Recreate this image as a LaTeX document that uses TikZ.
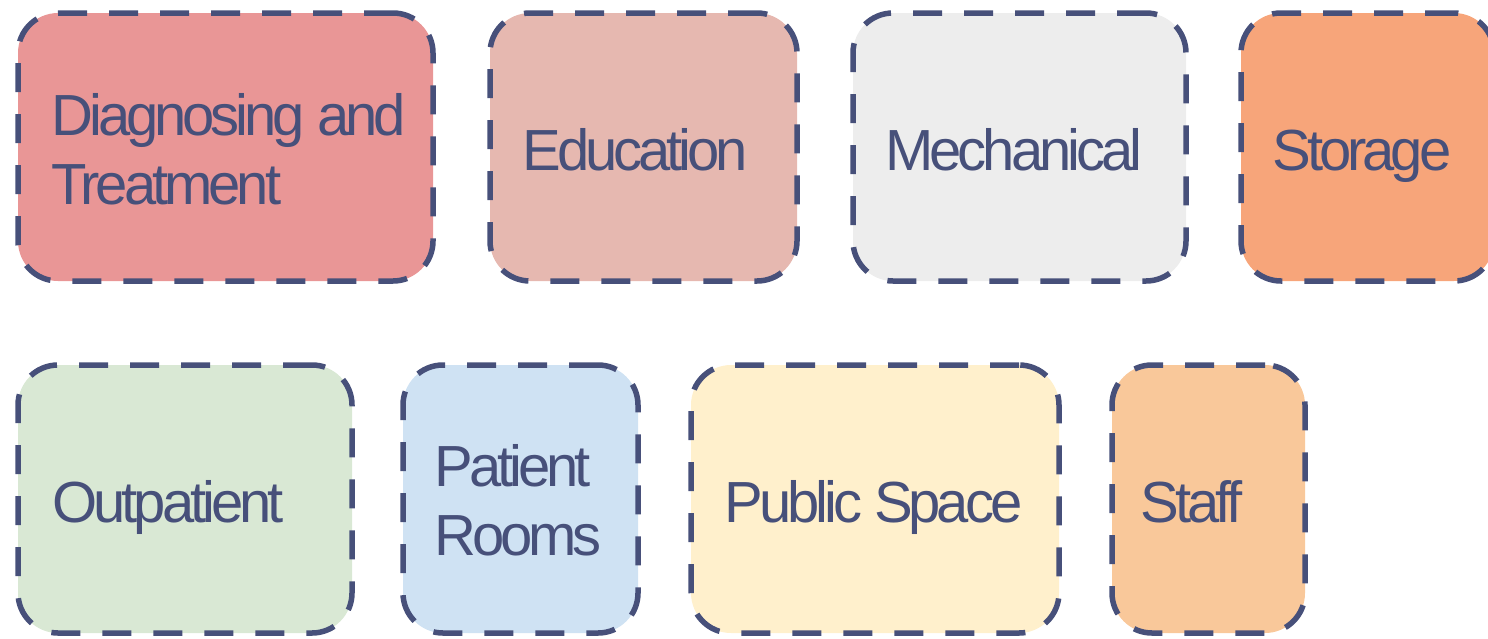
\documentclass[tikz,border=0pt]{standalone}
\usepackage{fontspec}
\setmainfont{Liberation Sans}[LetterSpace=-7]
\definecolor{edge}{HTML}{47507A}
\definecolor{cDiag}{HTML}{E99696}
\definecolor{cEdu}{HTML}{E6B8B0}
\definecolor{cMech}{HTML}{EDEDED}
\definecolor{cStor}{HTML}{F7A57A}
\definecolor{cOut}{HTML}{D9E8D4}
\definecolor{cPat}{HTML}{CFE2F3}
\definecolor{cPub}{HTML}{FFF0CC}
\definecolor{cStaff}{HTML}{F9C89A}
\tikzset{
  zone/.style={draw=edge, line width=5.5pt, dash pattern=on 29pt off 22pt,
    rounded corners=40pt, inner sep=0pt},
  lbl/.style={inner sep=0pt, align=left, text=edge, anchor=base west,
    font=\fontsize{58}{69}\selectfont},
}
\newcommand{\zonebox}[6]{%
  % #1 name, #2 x1, #3 y1, #4 x2, #5 y2, #6 color
  \pgfmathsetmacro{\zw}{#4-#2}\pgfmathsetmacro{\zh}{#5-#3}%
  \node[zone, fill=#6, minimum width=\zw pt, minimum height=\zh pt]
    (#1) at ({(#2+#4)/2},{(#3+#5)/2}) {};%
}
\begin{document}
\begin{tikzpicture}[x=1pt,y=-1pt]
\useasboundingbox (0,0) rectangle (1488,638);
\zonebox{diag}{18}{13}{433}{281}{cDiag}
\zonebox{edu}{490}{13}{797}{281}{cEdu}
\zonebox{mech}{853}{13}{1186}{281}{cMech}
\zonebox{stor}{1241}{13}{1494}{281}{cStor}
\zonebox{outp}{18}{365}{352}{633}{cOut}
\zonebox{pat}{403}{365}{638}{633}{cPat}
\zonebox{pub}{691}{365}{1059}{633}{cPub}
\zonebox{staff}{1112}{365}{1305}{633}{cStaff}
\node[lbl] (diagT) at ([xshift=36pt,yshift=-57pt]diag.west) {Diagnosing and\\Treatment};
\node[lbl] (eduT) at ([xshift=35pt,yshift=-23pt]edu.west) {Education};
\node[lbl] (mechT) at ([xshift=35pt,yshift=-23pt]mech.west) {Mechanical};
\node[lbl] (storT) at ([xshift=34pt,yshift=-23pt]stor.west) {Storage};
\node[lbl] (outpT) at ([xshift=37pt,yshift=-23pt]outp.west) {Outpatient};
\node[lbl] (patT) at ([xshift=34pt,yshift=-56pt]pat.west) {Patient\\Rooms};
\node[lbl] (pubT) at ([xshift=36pt,yshift=-23pt]pub.west) {Public Space};
\node[lbl] (staffT) at ([xshift=31pt,yshift=-23pt]staff.west) {Staff};
\end{tikzpicture}
\end{document}
